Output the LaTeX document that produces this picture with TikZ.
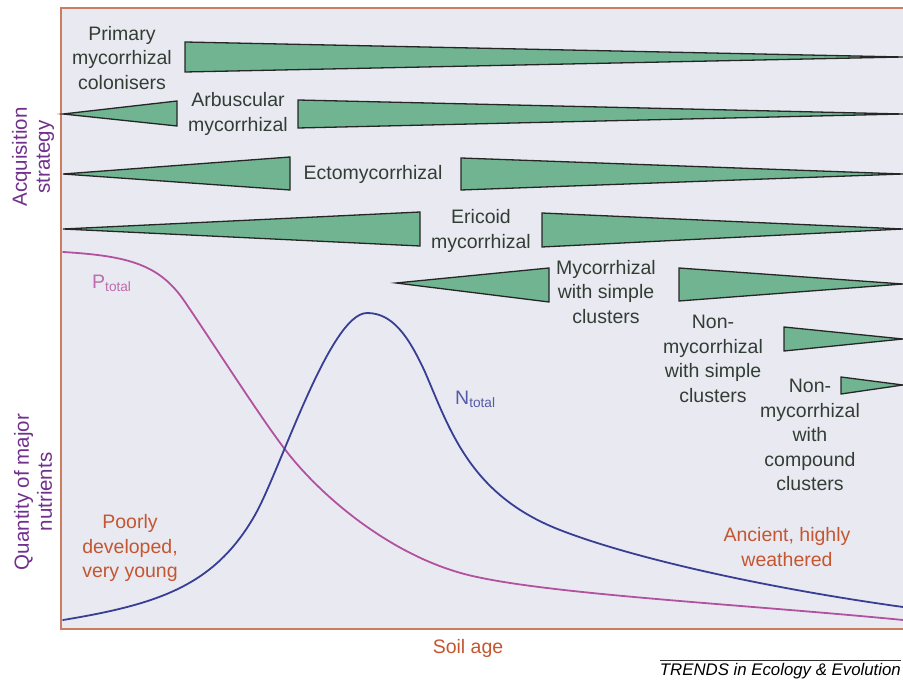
\documentclass[tikz,border=0pt]{standalone}
\usepackage{fontspec}
\setmainfont{Liberation Sans}
\definecolor{bgcol}{RGB}{233,233,242}
\definecolor{framecol}{RGB}{205,125,95}
\definecolor{wedgecol}{RGB}{112,180,145}
\definecolor{txtcol}{RGB}{50,62,52}
\definecolor{axcol}{RGB}{112,48,140}
\definecolor{orcol}{RGB}{196,86,48}
\definecolor{pcol}{RGB}{178,82,158}
\definecolor{ncol}{RGB}{55,62,148}
\begin{document}
\begin{tikzpicture}[x=1pt,y=-1pt,
  wedge/.style={fill=wedgecol, draw=black!85, line width=1.3, line join=miter},
  lab/.style={align=center, text=txtcol, font=\fontsize{19.5}{24.5}\selectfont, inner sep=0pt},
  axlab/.style={align=center, text=axcol, font=\fontsize{20.5}{23}\selectfont, rotate=90, inner sep=0pt},
  orlab/.style={align=center, text=orcol, font=\fontsize{19.5}{24.5}\selectfont, inner sep=0pt},
  curve/.style={line width=1.8, line cap=round}]
\clip (0,0) rectangle (903,684);
\fill[white] (0,0) rectangle (903,684);
\fill[bgcol] (61,8) rectangle (910,629);
\draw[framecol, line width=1.3] (910,8) -- (61,8) -- (61,629) -- (910,629);
% wedges
\draw[wedge] (185,42) -- (903,57) -- (185,72) -- cycle;
\draw[wedge] (63,114) -- (177,101) -- (177,126) -- cycle;
\draw[wedge] (298,100) -- (903,114) -- (298,128) -- cycle;
\draw[wedge] (63,174) -- (290,157) -- (290,190) -- cycle;
\draw[wedge] (461,158) -- (903,174) -- (461,190) -- cycle;
\draw[wedge] (63,229) -- (420,212) -- (420,246) -- cycle;
\draw[wedge] (542,213) -- (903,229) -- (542,247) -- cycle;
\draw[wedge] (396,283) -- (549,268) -- (549,302) -- cycle;
\draw[wedge] (679,268) -- (903,284) -- (679,301) -- cycle;
\draw[wedge] (784,327) -- (903,339) -- (784,351) -- cycle;
\draw[wedge] (841,377) -- (903,385) -- (841,394) -- cycle;
% strategy labels
\node[lab] (prim) at (122,58) {Primary\\mycorrhizal\\colonisers};
\node[lab] (arb) at (238,114) {Arbuscular\\mycorrhizal};
\node[lab] (ecto) at (373,174) {Ectomycorrhizal};
\node[lab] (eric) at (481,231) {Ericoid\\mycorrhizal};
\node[lab] (mycs) at (606,292) {Mycorrhizal\\with simple\\clusters};
\node[lab] (nms) at (713,359) {Non-\\mycorrhizal\\with simple\\clusters};
\node[lab] (nmc) at (810,435) {Non-\\mycorrhizal\\with\\compound\\clusters};
% curves
\draw[curve, pcol] (63,252) .. controls (130,256) and (160,265) .. (185,302)
  .. controls (215,346) and (262,420) .. (287,452)
  .. controls (322,497) and (395,560) .. (477,577)
  .. controls (560,595) and (750,605) .. (903,620);
\draw[curve, ncol] (63,620) .. controls (160,604) and (215,585) .. (255,515)
  .. controls (280,471) and (330,313) .. (367,313)
  .. controls (392,313) and (408,335) .. (425,372)
  .. controls (450,430) and (470,495) .. (560,530)
  .. controls (640,561) and (780,590) .. (903,607);
\node[text=pcol!85, font=\fontsize{19.5}{24}\selectfont, inner sep=0pt, anchor=west] (ptot) at (92,283) {P\textsubscript{total}};
\node[text=ncol!85, font=\fontsize{19.5}{24}\selectfont, inner sep=0pt, anchor=west] (ntot) at (455,399) {N\textsubscript{total}};
% soil descriptions
\node[orlab] (young) at (130,548) {Poorly\\developed,\\very young};
\node[orlab] (old) at (787,547) {Ancient, highly\\weathered};
% axis labels
\node[axlab] (acq) at (33,157) {Acquisition\\strategy};
\node[axlab] (qty) at (33,492) {Quantity of major\\nutrients};
\node[text=orcol, font=\fontsize{19.5}{24}\selectfont, inner sep=0pt] (soil) at (468,648) {Soil age};
% credit
\draw[black!80, line width=0.6] (660,660) -- (901,660);
\node[anchor=east, font=\fontsize{16.8}{20}\selectfont\itshape, inner sep=0pt] (trends) at (901,671) {TRENDS in Ecology \& Evolution};
\end{tikzpicture}
\end{document}
